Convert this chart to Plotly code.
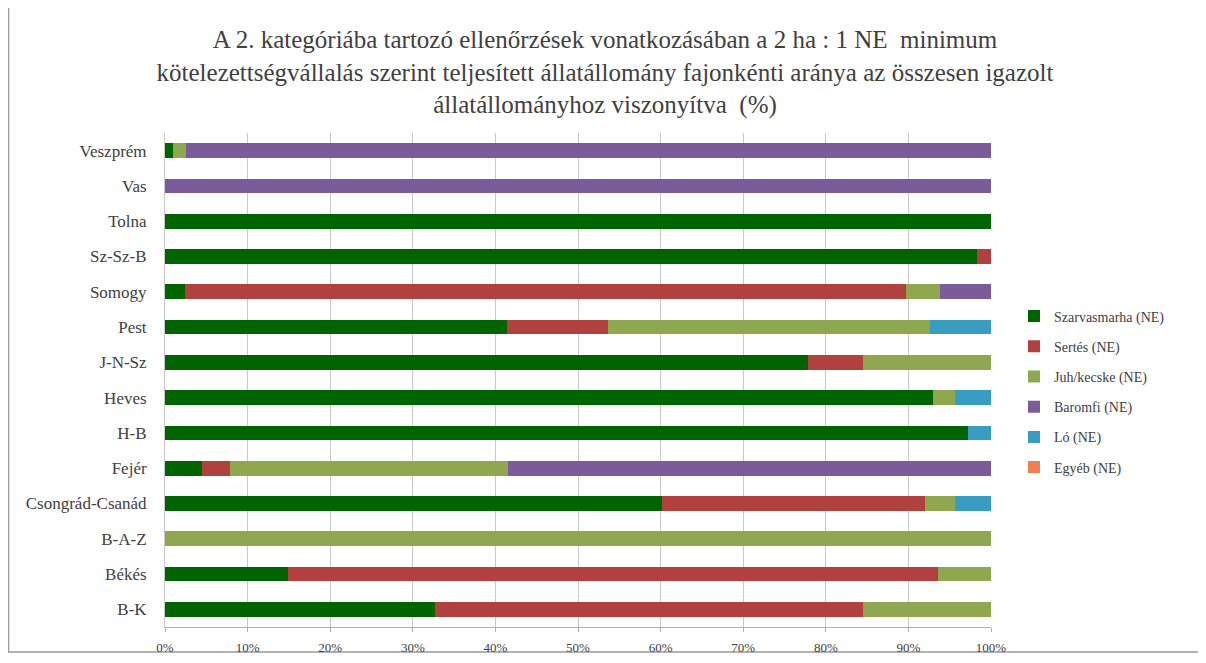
import plotly.graph_objects as go

categories = ["Veszprém", "Vas", "Tolna", "Sz-Sz-B", "Somogy", "Pest", "J-N-Sz",
              "Heves", "H-B", "Fejér", "Csongrád-Csanád", "B-A-Z", "Békés", "B-K"]

szarvasmarha = [1.0, 0.0, 100.0, 98.3, 2.4, 41.4, 77.8, 93.0, 97.2, 4.5, 60.2, 0.0, 14.9, 32.7]
sertes       = [0.0, 0.0, 0.0, 1.7, 87.3, 12.2, 6.7, 0.0, 0.0, 3.4, 31.8, 0.0, 78.7, 51.8]
juh          = [1.5, 0.0, 0.0, 0.0, 4.1, 39.0, 15.5, 2.6, 0.0, 33.6, 3.6, 100.0, 6.4, 15.5]
baromfi      = [97.5, 100.0, 0.0, 0.0, 6.2, 0.0, 0.0, 0.0, 0.0, 58.5, 0.0, 0.0, 0.0, 0.0]
lo           = [0.0, 0.0, 0.0, 0.0, 0.0, 7.4, 0.0, 4.4, 2.8, 0.0, 4.4, 0.0, 0.0, 0.0]
egyeb        = [0.0] * 14

series_names = ["Szarvasmarha (NE)", "Sertés (NE)", "Juh/kecske (NE)",
                "Baromfi (NE)", "Ló (NE)", "Egyéb (NE)"]
series_values = [szarvasmarha, sertes, juh, baromfi, lo, egyeb]
colors = ["#006400", "#b0413e", "#8fa84f", "#7b5b99", "#3b9cc2", "#f08050"]

x_ticks = [0, 10, 20, 30, 40, 50, 60, 70, 80, 90, 100]
x_tick_labels = [f"{v}%" for v in x_ticks]

title = ("A 2. kategóriába tartozó ellenőrzések vonatkozásában a 2 ha : 1 NE  minimum<br>"
         "kötelezettségvállalás szerint teljesített állatállomány fajonkénti aránya az összesen igazolt<br>"
         "állatállományhoz viszonyítva  (%)")

W, H = 1206, 663
ML, MR, MT, MB = 157, 223, 125, 44
PW, PH = W - ML - MR, H - MT - MB

def px_to_paper_x(px):
    return (px - ML) / PW

def px_to_paper_y(py):
    return (H - MB - py) / PH

FONT = "Liberation Serif"

fig = go.Figure()
for name, vals, col in zip(series_names, series_values, colors):
    fig.add_trace(go.Bar(
        y=categories, x=vals, name=name, orientation="h",
        legendgroup=name,
        marker=dict(color=col, line=dict(width=0)),
        width=0.42,
    ))

fig.update_layout(
    width=W, height=H,
    barmode="stack",
    paper_bgcolor="white", plot_bgcolor="white",
    margin=dict(l=ML, r=MR, t=MT, b=MB),
    font=dict(family=FONT, color="#404040", size=12),
    title=dict(text=title, x=597 / W, xanchor="center", y=1 - 40 / H, yanchor="top",
               font=dict(family=FONT, size=25, color="#404040")),
    legend=dict(x=px_to_paper_x(1006), y=px_to_paper_y(384), xref="paper", yref="paper",
                xanchor="left", yanchor="middle", traceorder="grouped",
                font=dict(family=FONT, size=14, color="#404040"),
                itemwidth=30, tracegroupgap=9, bgcolor="rgba(0,0,0,0)"),
    xaxis=dict(range=[0, 100], tickvals=x_ticks, ticktext=x_tick_labels,
               showgrid=True, gridcolor="#c8c8cc", gridwidth=1,
               showline=True, linecolor="#b0b0b0", ticks="outside", ticklen=4,
               tickcolor="#b0b0b0", zeroline=False, ticklabelstandoff=4,
               tickfont=dict(family=FONT, size=13, color="#404040"), fixedrange=True),
    yaxis=dict(categoryorder="array", categoryarray=categories, autorange="reversed",
               showline=True, linecolor="#c8c8c8", ticks="", showgrid=False,
               ticklabelstandoff=14,
               tickfont=dict(family=FONT, size=17, color="#404040"), fixedrange=True),
    shapes=[dict(type="rect", xref="paper", yref="paper",
                 x0=px_to_paper_x(0.5), x1=px_to_paper_x(1194),
                 y0=px_to_paper_y(644), y1=px_to_paper_y(-10),
                 line=dict(color="#9a9a9a", width=1.5), fillcolor="rgba(0,0,0,0)",
                 layer="below")],
)

fig.write_html("out.html")
